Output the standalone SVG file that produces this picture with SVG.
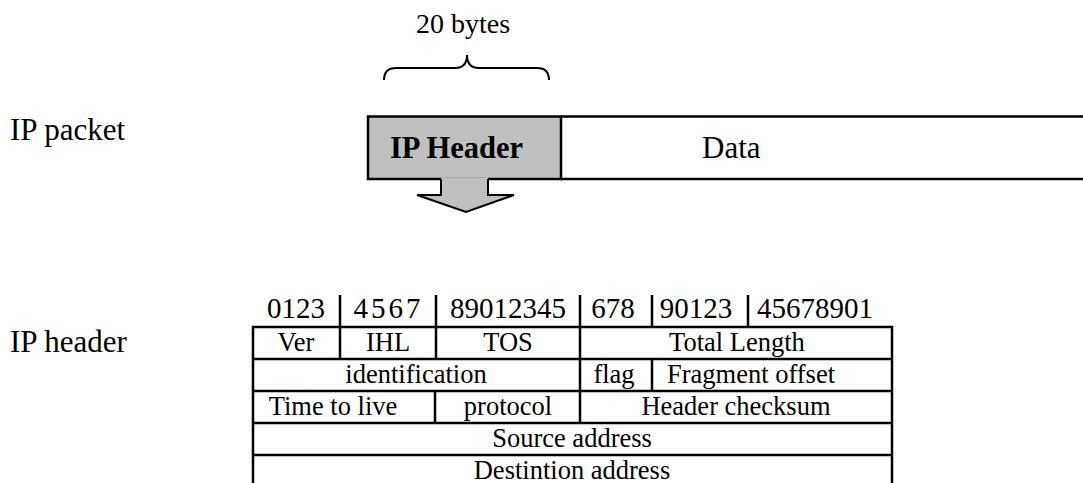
<svg xmlns="http://www.w3.org/2000/svg" width="1083" height="483" viewBox="0 0 1083 483">
  <style>
    .t { font-family: "Liberation Serif", "Times New Roman", serif; fill: #000; }
    .lbl { font-size: 31px; }
    .cell { font-size: 26.5px; }
    .bits { font-size: 29px; }
    .ln { stroke: #000; stroke-width: 2.5; fill: none; }
  </style>

  <rect width="1083" height="483" fill="#fff"/>

  <!-- Left-hand labels -->
  <text class="t lbl" x="10" y="140">IP packet</text>
  <text class="t lbl" x="10" y="352">IP header</text>

  <!-- Size brace above the header -->
  <g id="size-brace">
    <text class="t" x="416" y="33" font-size="28">20 bytes</text>
    <path d="M384,80 Q384,68 396,68 L455,68 Q467,68 467,55 Q467,68 479,68 L537,68 Q549,68 549,80" fill="none" stroke="#000" stroke-width="2"/>
  </g>

  <!-- Packet: header + data -->
  <g id="ip-header-box">
    <rect x="368" y="116.5" width="193" height="62.5" fill="#c0c0c0" stroke="#000" stroke-width="2.5"/>
    <text class="t" x="390" y="158" font-size="30.5" font-weight="bold">IP Header</text>
  </g>
  <g id="data-box">
    <path class="ln" d="M561,116.5 H1083 M561,179 H1083"/>
    <text class="t lbl" x="702" y="158">Data</text>
  </g>

  <!-- Expansion arrow joined to the header box -->
  <g id="connectors">
    <polygon points="441,177.5 441,195 417,195 466,212 514,195 488,195 488,177.5" fill="#c0c0c0"/>
    <path d="M441,179 V195 H417 L466,212 L514,195 H488 V179" fill="none" stroke="#000" stroke-width="2"/>
  </g>

  <!-- Header field layout -->
  <g id="header-table">
    <!-- bit numbering row -->
    <g class="t bits" text-anchor="middle">
      <text x="296" y="318">0123</text>
      <text x="387" y="318" textLength="67">4 5 6 7</text>
      <text x="508" y="318">89012345</text>
      <text x="613" y="318">678</text>
      <text x="696" y="318">90123</text>
      <text x="815" y="318">45678901</text>
    </g>
    <path class="ln" d="M340,295 V327 M436,295 V327 M580,295 V327 M652,295 V327 M748,295 V327"/>

    <!-- outline and row rules -->
    <rect class="ln" x="253" y="327" width="639" height="160"/>
    <path class="ln" d="M253,359 H892 M253,391 H892 M253,423 H892 M253,455 H892"/>
    <!-- column rules -->
    <path class="ln" d="M340,327 V359 M436,327 V359 M580,327 V423 M652,359 V391 M435,391 V423"/>

    <g class="t cell" text-anchor="middle">
      <text x="296" y="351">Ver</text>
      <text x="388" y="351">IHL</text>
      <text x="508" y="351">TOS</text>
      <text x="737" y="351">Total Length</text>

      <text x="416" y="383">identification</text>
      <text x="614" y="383">flag</text>
      <text x="751" y="383">Fragment offset</text>

      <text x="333" y="415">Time to live</text>
      <text x="508" y="415">protocol</text>
      <text x="736" y="415">Header checksum</text>

      <text x="572" y="447">Source address</text>
      <text x="572" y="479">Destintion address</text>
    </g>
  </g>
</svg>
